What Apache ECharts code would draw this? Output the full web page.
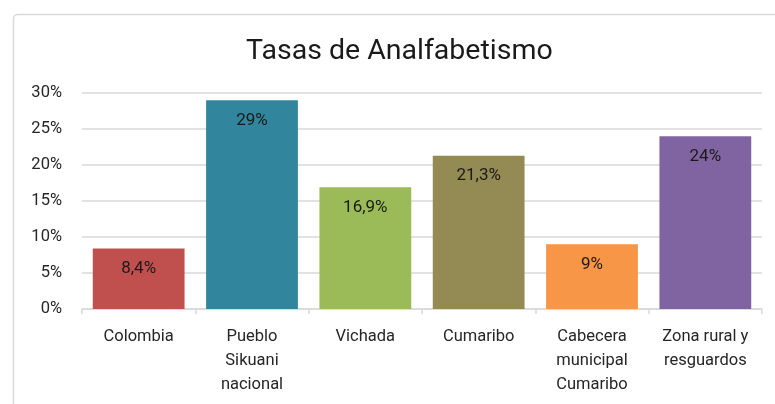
<!DOCTYPE html>
<html>
<head>
<meta charset="utf-8">
<script src="https://cdn.jsdelivr.net/npm/echarts@6/dist/echarts.min.js"></script>
<style>html,body{margin:0;padding:0;background:#fff}#c{width:775px;height:404px}</style>
</head>
<body>
<div id="c"></div>
<script>
const categories = ["Colombia", "Pueblo\nSikuani\nnacional", "Vichada", "Cumaribo", "Cabecera\nmunicipal\nCumaribo", "Zona rural y\nresguardos"];
const values = [8.4, 29, 16.9, 21.3, 9, 24];
const barColors = ["#C0504D", "#31859C", "#9BBB59", "#948A54", "#F79646", "#8064A2"];
const yTicks = { min: 0, max: 30, interval: 5 };
const titleText = "Tasas de Analfabetismo";

const FONT = "Roboto";
const chart = echarts.init(document.getElementById('c'), null, { renderer: 'canvas' });
chart.setOption({
  animation: false,
  graphic: [{
    type: 'rect', left: 11, top: 12, shape: { width: 800, height: 420, r: 4 },
    style: { fill: 'none', stroke: '#D9D9D9', lineWidth: 1.5 }, silent: true, z: -1
  }],
  title: {
    text: titleText, left: 241, top: 32,
    textStyle: { fontFamily: FONT, fontSize: 28.5, fontWeight: 'normal', color: '#1a1a1a' }
  },
  grid: { left: 82, right: 13, top: 93, bottom: 95, containLabel: false },
  xAxis: {
    type: 'category', data: categories,
    axisLine: { lineStyle: { color: '#D9D9D9', width: 1.5 } },
    axisTick: { show: true, length: 5, lineStyle: { color: '#D9D9D9', width: 1.5 } },
    axisLabel: { interval: 0, color: '#262626', fontFamily: FONT, fontSize: 16.5, lineHeight: 24, margin: 16 }
  },
  yAxis: {
    type: 'value', min: yTicks.min, max: yTicks.max, interval: yTicks.interval,
    axisLine: { show: false }, axisTick: { show: false },
    splitLine: { lineStyle: { color: '#D9D9D9', width: 1.5 } },
    axisLabel: { formatter: '{value}%', color: '#262626', fontFamily: FONT, fontSize: 16.5, margin: 20 }
  },
  series: [{
    type: 'bar', barCategoryGap: '19%',
    data: values.map((v, i) => ({ value: v, itemStyle: { color: barColors[i] } })),
    label: {
      show: true, position: 'insideTop', distance: 12,
      formatter: p => String(p.value).replace('.', ',') + '%',
      color: '#1a1a1a', fontFamily: FONT, fontSize: 17
    }
  }]
});
</script>
</body>
</html>
